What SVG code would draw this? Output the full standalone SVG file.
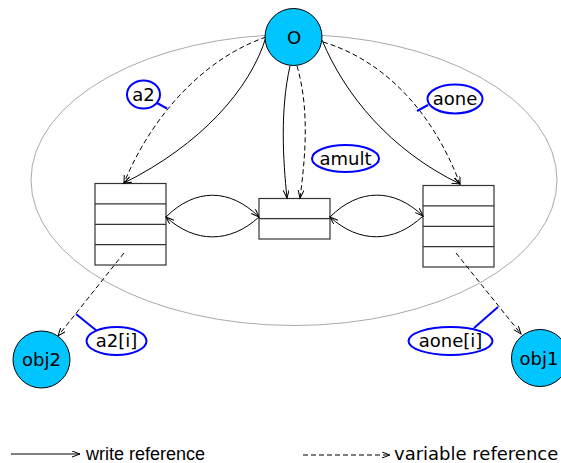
<svg xmlns="http://www.w3.org/2000/svg" width="561" height="463" viewBox="0 0 561 463">
<style>
.obj{fill:#00c5ff;stroke:#000;stroke-width:1}
.box{fill:#fff;stroke:#333;stroke-width:1.2}
.e{fill:none;stroke:#000;stroke-width:1}
.d{stroke-dasharray:5,3}
.lab{fill:#fff;stroke:#0000ff;stroke-width:2}
.lk{stroke:#0000ff;stroke-width:2}
text{font-family:"DejaVu Sans",sans-serif;font-size:18px;fill:#000;text-anchor:middle}
</style>
<defs>
<marker id="ah" markerUnits="userSpaceOnUse" markerWidth="10" markerHeight="8" refX="8" refY="3" orient="auto" viewBox="0 0 10 8">
<path d="M0,0 L8,3 L0,6" fill="none" stroke="#000" stroke-width="1"/>
</marker>
</defs>
<g id="scope"><ellipse cx="294" cy="180" rx="263" ry="145.5" fill="none" stroke="#aaa" stroke-width="1"/></g>
<g id="arr-a2">
<rect class="box" x="95" y="183.5" width="71" height="81.5"/>
<path class="box" d="M95,203.9H166M95,224.3H166M95,244.6H166"/>
</g>
<g id="arr-amult">
<rect class="box" x="259" y="198.5" width="71" height="40.5"/>
<path class="box" d="M259,218.7H330"/>
</g>
<g id="arr-aone">
<rect class="box" x="423" y="185.5" width="71" height="81.5"/>
<path class="box" d="M423,205.9H494M423,226.3H494M423,246.6H494"/>
</g>
<g id="connectors">
<path class="e" d="M266,37 C250,90 200,145 124,183" marker-end="url(#ah)"/>
<path class="e d" d="M266,37 C200,60 150,120 124,183" marker-end="url(#ah)"/>
<path class="e" d="M290,66 C280,110 283,160 287,198" marker-end="url(#ah)"/>
<path class="e d" d="M297,66 C310,110 305,160 300,198" marker-end="url(#ah)"/>
<path class="e" d="M322,40 C345,95 390,150 460,184" marker-end="url(#ah)"/>
<path class="e d" d="M323,42 C383,60 432,110 460,184" marker-end="url(#ah)"/>
<path class="e" d="M166,217 C195,188 230,188 259,217" marker-end="url(#ah)"/>
<path class="e" d="M259,217 C230,243.5 195,243.5 166,217" marker-end="url(#ah)"/>
<path class="e" d="M330,217 C359,188 394,188 423,216" marker-end="url(#ah)"/>
<path class="e" d="M423,216 C394,243.5 359,243.5 330,217" marker-end="url(#ah)"/>
<path class="e d" d="M124,253 L58,336" marker-end="url(#ah)"/>
<path class="e d" d="M456,253 L521,334" marker-end="url(#ah)"/>
</g>
<g id="O"><circle class="obj" cx="293.5" cy="37" r="28.5"/><text x="294" y="43.5">O</text></g>
<g id="obj2"><circle class="obj" cx="41.5" cy="359.5" r="28.5"/><text x="41.5" y="366">obj2</text></g>
<g id="obj1"><circle class="obj" cx="540" cy="358" r="28.5"/><text x="539" y="364.5">obj1</text></g>
<g id="label-a2"><line class="lk" x1="157" y1="103" x2="167" y2="108.5"/><ellipse class="lab" cx="143.5" cy="94.5" rx="16.5" ry="14"/><text x="143.5" y="100.5">a2</text></g>
<g id="label-amult"><ellipse class="lab" cx="345.5" cy="158.5" rx="33.5" ry="13.5"/><text x="345.5" y="164.5">amult</text></g>
<g id="label-aone"><line class="lk" x1="428" y1="105" x2="417" y2="111"/><ellipse class="lab" cx="455" cy="99" rx="27.5" ry="14.5"/><text x="455" y="105">aone</text></g>
<g id="label-a2i"><line class="lk" x1="97" y1="331" x2="76" y2="314"/><ellipse class="lab" cx="116.5" cy="341" rx="30" ry="14"/><text x="116.5" y="347">a2[i]</text></g>
<g id="label-aonei"><line class="lk" x1="474" y1="328" x2="498" y2="307"/><ellipse class="lab" cx="450.5" cy="341" rx="42" ry="14"/><text x="450.5" y="347">aone[i]</text></g>
<g id="legend">
<path class="e" d="M11,454 L80,454" marker-end="url(#ah)"/>
<text x="86" y="459.5" style="font-family:'Liberation Sans',Arial,sans-serif;text-anchor:start">write reference</text>
<path class="e d" d="M303,455 L390,455" marker-end="url(#ah)"/>
<text x="394" y="459.5" style="text-anchor:start">variable reference</text>
</g>
</svg>
